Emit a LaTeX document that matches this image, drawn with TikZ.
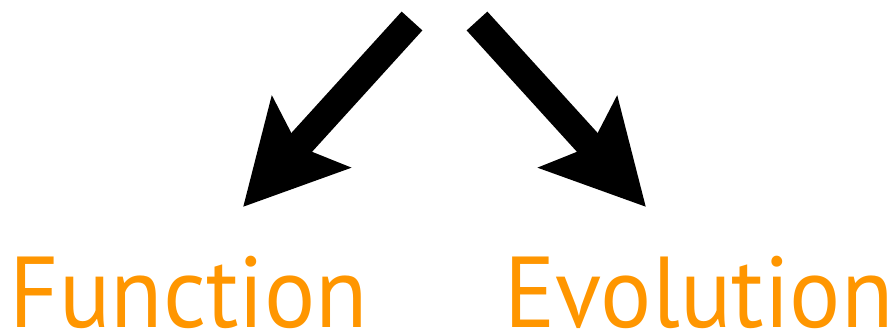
\documentclass[tikz,border=0pt]{standalone}
\usepackage{xcolor}
\usepackage{fontspec}
\setmainfont{PT Sans}[FakeStretch=0.95]
\usetikzlibrary{arrows.meta}
\definecolor{tagorange}{RGB}{255,150,0}
\tikzset{
  bigarrow/.style={-{Stealth[length=30mm, width=31mm, inset=5.4mm]}, line width=8.4mm, line cap=butt},
  word/.style={text=tagorange, font=\fontsize{86}{90}\selectfont, inner sep=0pt, text depth=0pt, anchor=base},
}

\begin{document}
\begin{tikzpicture}[x=0.3mm, y=-0.3mm]
  \useasboundingbox (0,0) rectangle (889,330);
  % end points of the arrows
  \coordinate (ltop) at (412,21);
  \coordinate (ltip) at (243,207);
  \coordinate (rtop) at (477,21);
  \coordinate (rtip) at (646,207);
  % words
  \node[word] (func) at (189,327) {Function};
  \node[word] (evol) at (699,327) {Evolution};
  % arrows
  \draw[bigarrow] (ltop) -- (ltip);
  \draw[bigarrow] (rtop) -- (rtip);
\end{tikzpicture}
\end{document}
